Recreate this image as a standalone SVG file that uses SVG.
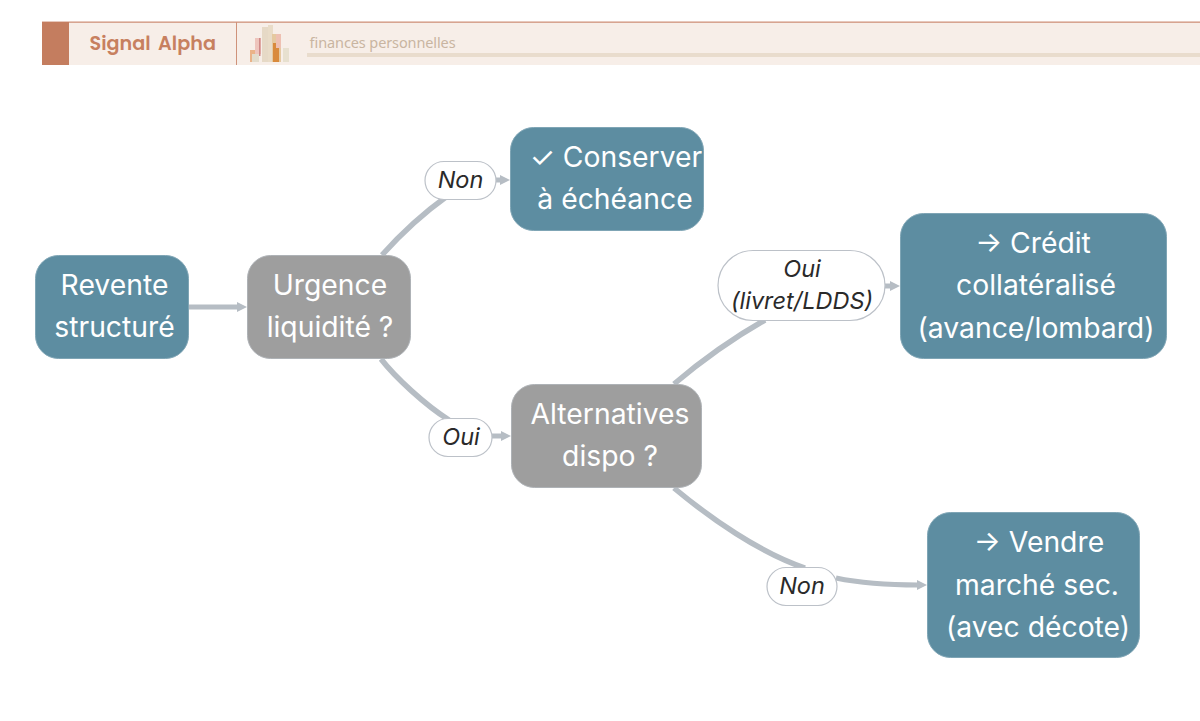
<svg xmlns="http://www.w3.org/2000/svg" width="1200" height="721" viewBox="0 0 1200 721">
<defs><marker id="arrow" markerUnits="userSpaceOnUse" markerWidth="11" markerHeight="10" refX="1" refY="5" orient="auto"><path d="M0 0L10 5L0 10z" fill="#b6bdc4"/></marker></defs>
<style>
.n{stroke-width:1}
.teal{fill:#5d8da1;stroke:#7fa5b5}
.gray{fill:#9e9e9e;stroke:#aeb2b6}
.t{font-family:Inter,"Liberation Sans",sans-serif;font-size:28.300px;fill:#fff;text-anchor:middle}
.l{font-family:Inter,"Liberation Sans",sans-serif;font-size:23.500px;font-style:italic;fill:#2a2a2a;text-anchor:middle}
.p{fill:#fff;stroke:#bcc1c8;stroke-width:1.200}
.c{fill:none;stroke:#b6bdc4;stroke-width:5;marker-end:url(#arrow)}
.c2{fill:none;stroke:#b6bdc4;stroke-width:5.500}
</style>
<g id="header">
<rect x="42" y="22" width="1158" height="43" fill="#f7eee8"/>
<rect x="42" y="21.500" width="1158" height="1.300" fill="#cf927a"/>
<rect x="42" y="22" width="27" height="43" fill="#c47d5f"/>
<rect x="236" y="22" width="1" height="43" fill="#cf927a"/>
<text x="89.500" y="50" font-family="Poppins,'Noto Sans',sans-serif" font-size="19.200" font-weight="600" word-spacing="3" fill="#c7805f">Signal Alpha</text>
<text x="309.500" y="48" font-family="'Noto Sans',sans-serif" font-size="14.500" fill="#c9b5a1" textLength="146">finances personnelles</text>
<rect x="307" y="53" width="893" height="4" fill="#e9dccd"/>
<g id="logo">
<rect x="250" y="50" width="8" height="12" fill="#e8a878" opacity=".85"/>
<rect x="252" y="54" width="7" height="8" fill="#e3dccc"/>
<rect x="255" y="38" width="6" height="16" fill="#eec4bc"/>
<rect x="259" y="38" width="1.500" height="18" fill="#d08a88"/>
<rect x="262" y="27" width="6" height="35" fill="#e6d9c6"/>
<rect x="268" y="25" width="5" height="37" fill="#e9dcc8"/>
<rect x="272" y="34" width="9" height="28" fill="#e5c9a0"/>
<rect x="273" y="43" width="6" height="19" fill="#d98a3c"/>
<rect x="276" y="34" width="5" height="14" fill="#eec0b2"/>
<rect x="283" y="48" width="6" height="14" fill="#e7e0cf"/>
</g>
</g>
<g id="connectors">
<path class="c" d="M189 307L238 307"/>
<path class="c2" d="M382 255C400 235 425 212 446 197"/>
<path class="c" d="M496 180L501 180"/>
<path class="c2" d="M381 359C395 377 425 405 449 420"/>
<path class="c" d="M492 436L502 436"/>
<path class="c2" d="M674 384C700 362 735 337 765 320"/>
<path class="c" d="M885 286L891 286"/>
<path class="c2" d="M674 488C710 518 760 553 805 568"/>
<path class="c" d="M836 578C865 584 890 585 918 585"/>
</g>
<g id="n1"><rect class="n teal" x="35.500" y="255.500" width="153" height="103" rx="23"/><text class="t" x="114.500" y="295">Revente</text><text class="t" x="114.500" y="337">structuré</text></g>
<g id="n2"><rect class="n gray" x="247.500" y="255.500" width="163" height="103" rx="23"/><text class="t" x="330" y="295">Urgence</text><text class="t" x="330" y="337">liquidité ?</text></g>
<g id="n3"><rect class="n teal" x="510.500" y="127.500" width="193" height="103" rx="23"/><text class="t" x="616" y="167">✓ Conserver</text><text class="t" x="615" y="209">à échéance</text></g>
<g id="n4"><rect class="n gray" x="511.500" y="384.500" width="190" height="103" rx="23"/><text class="t" x="610" y="424">Alternatives</text><text class="t" x="610" y="466">dispo ?</text></g>
<g id="n5"><rect class="n teal" x="900.500" y="213.500" width="266" height="145" rx="23"/><text class="t" x="1033" y="253">→ Crédit</text><text class="t" x="1036" y="295">collatéralisé</text><text class="t" x="1036" y="338">(avance/lombard)</text></g>
<g id="n6"><rect class="n teal" x="927.500" y="512.500" width="212" height="145" rx="23"/><text class="t" x="1039" y="552">→ Vendre</text><text class="t" x="1037" y="595">marché sec.</text><text class="t" x="1038" y="637">(avec décote)</text></g>
<g id="l1"><rect class="p" x="425" y="161.500" width="71" height="38" rx="19"/><text class="l" x="460.500" y="188">Non</text></g>
<g id="l2"><rect class="p" x="429" y="418.500" width="63" height="38" rx="19"/><text class="l" x="461" y="445">Oui</text></g>
<g id="l3"><rect class="p" x="718" y="250.500" width="167" height="70" rx="35"/><text class="l" x="802" y="277">Oui</text><text class="l" x="802" y="309">(livret/LDDS)</text></g>
<g id="l4"><rect class="p" x="767" y="567.500" width="70" height="38" rx="19"/><text class="l" x="802" y="594">Non</text></g>
</svg>
